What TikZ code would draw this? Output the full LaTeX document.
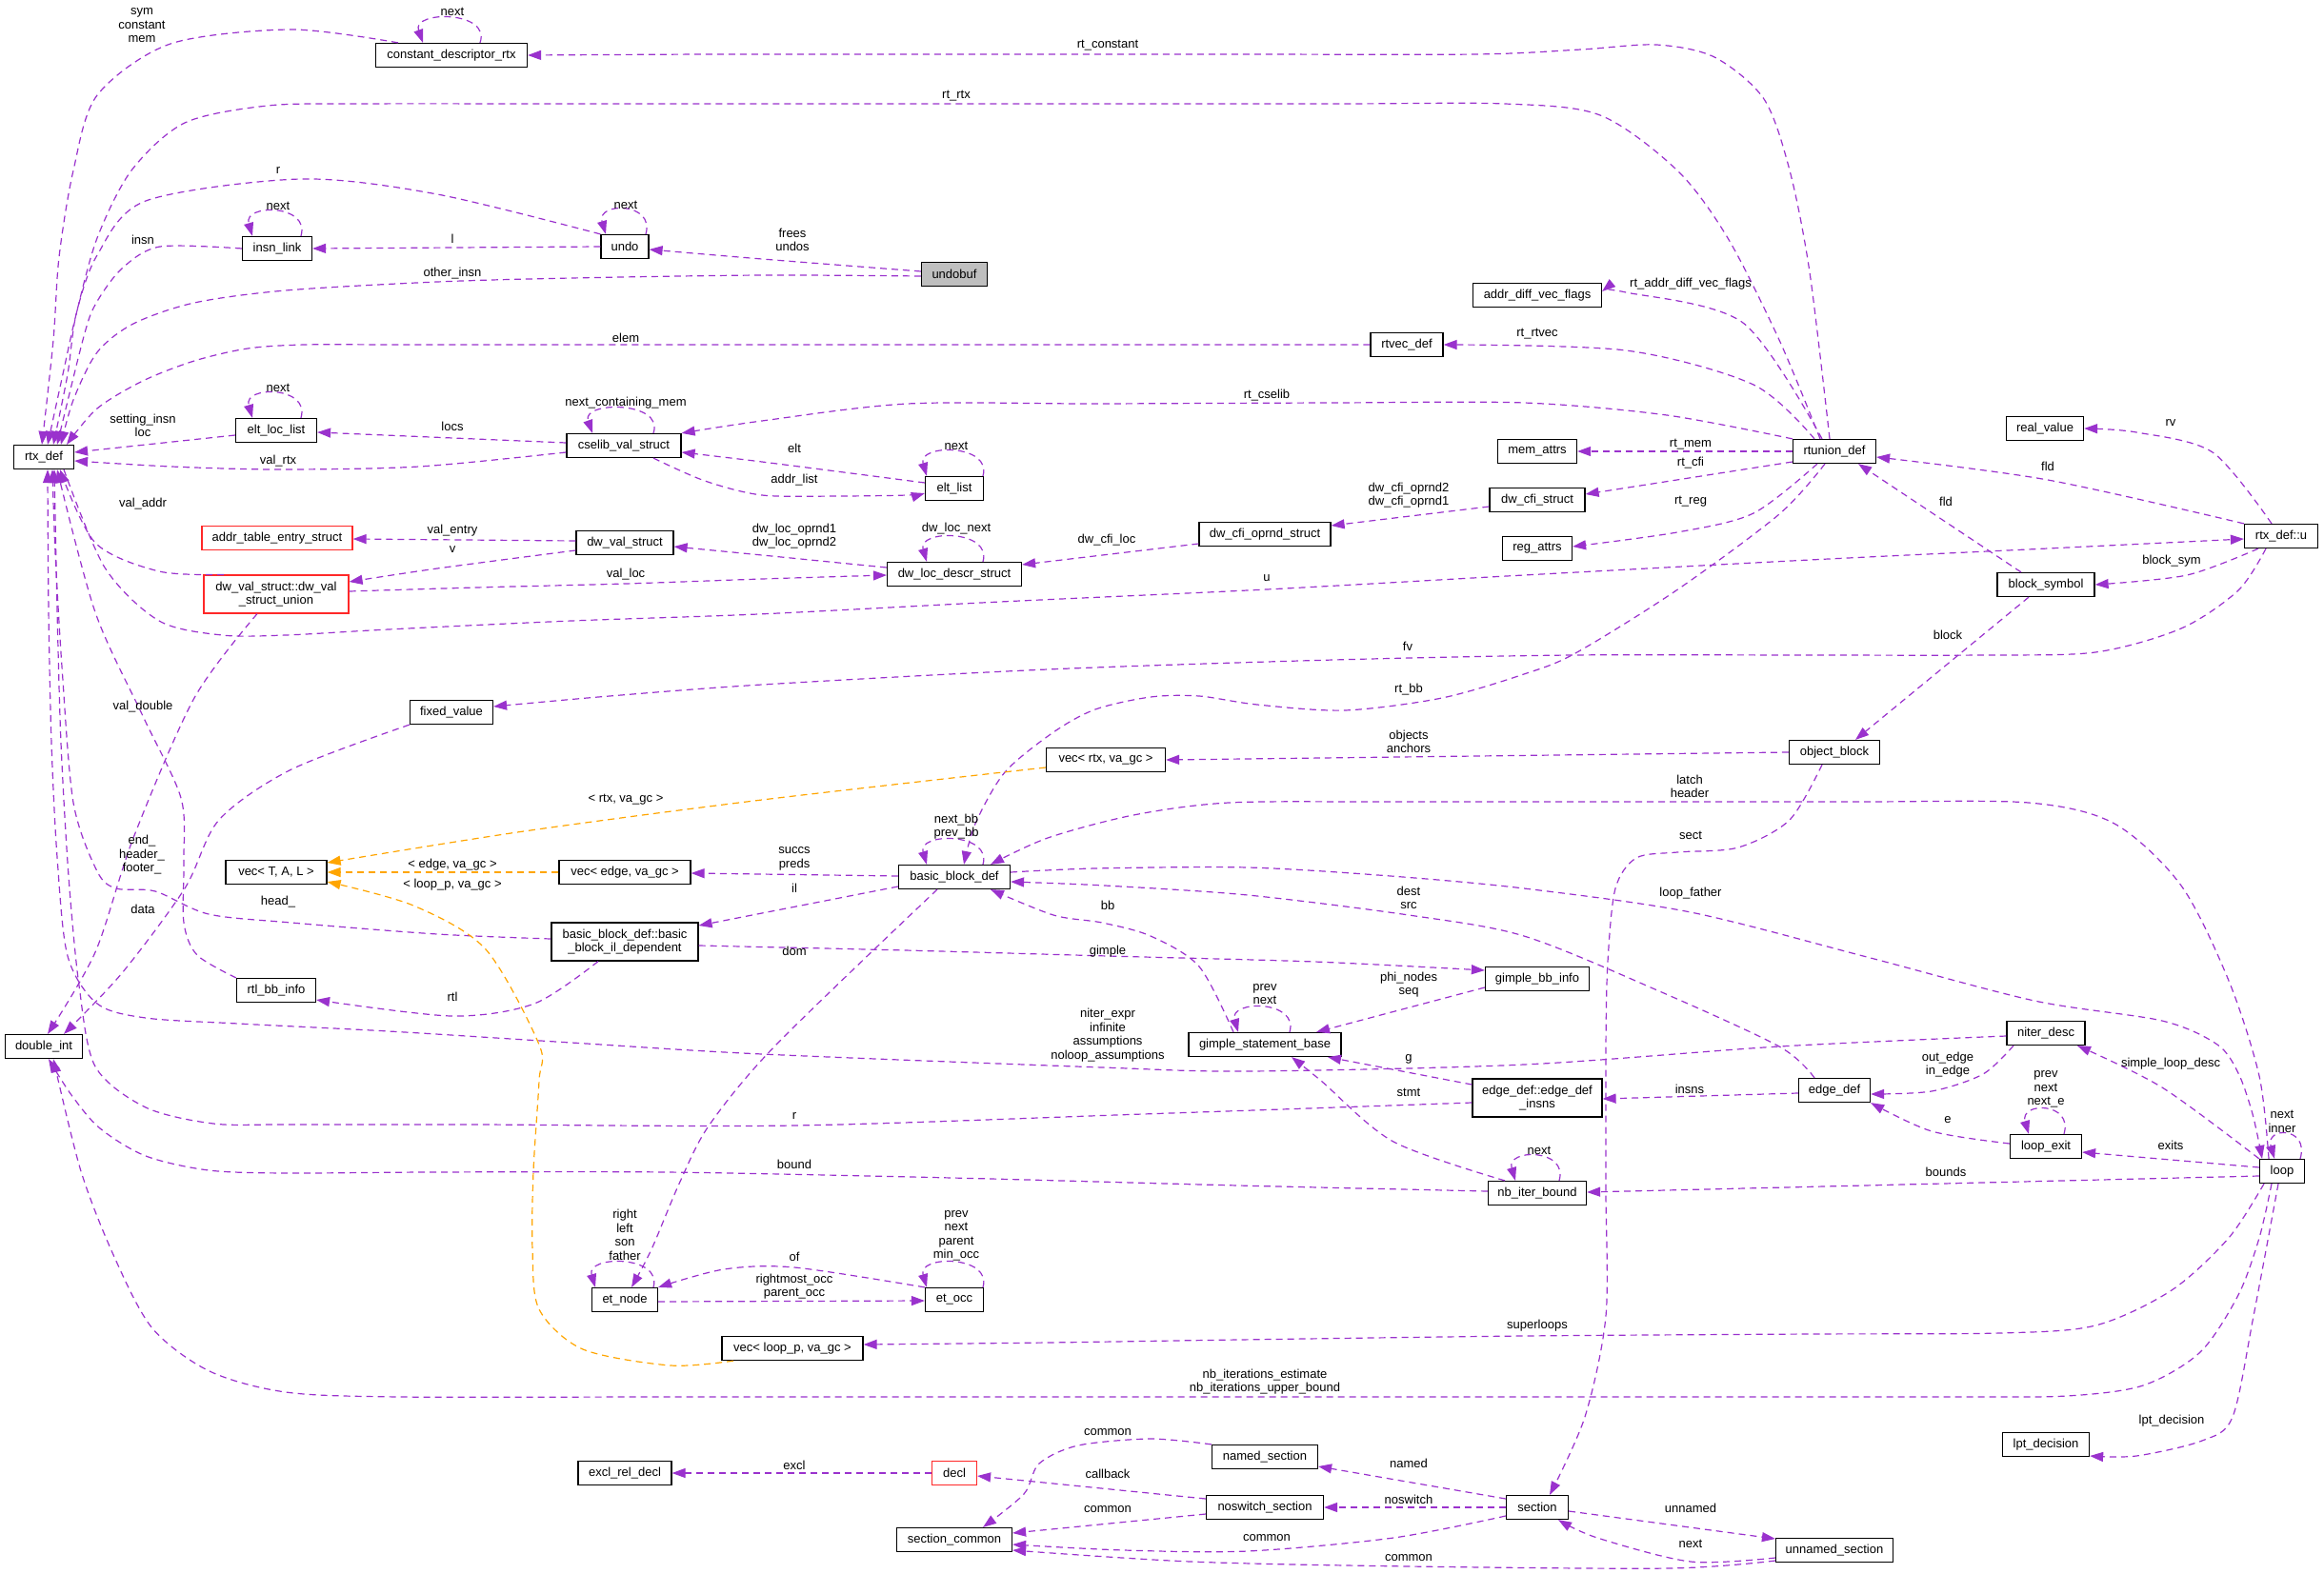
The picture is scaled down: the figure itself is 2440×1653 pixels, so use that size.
\documentclass[tikz,border=0pt]{standalone}
\usepackage{fontspec}
\setmainfont{Liberation Sans}
\usetikzlibrary{arrows.meta}
\definecolor{purp}{RGB}{154,50,205}
\definecolor{orng}{RGB}{255,165,0}
\definecolor{grayf}{RGB}{191,191,191}
\definecolor{redb}{RGB}{255,40,40}
\newcommand\dfont{\fontsize{13}{14.5}\selectfont}
\begin{document}
\begin{tikzpicture}[x=1pt,y=-1pt,
 nd/.style={draw=black, line width=1.2pt, fill=white, minimum height=25pt, inner sep=0pt, minimum width=#1, font=\dfont, align=center},
 rnd/.style={nd=#1, draw=redb},
 lbl/.style={font=\dfont, align=center, inner sep=0pt},
 rel/.style={draw=purp, line width=1.2pt, dash pattern=on 7pt off 5pt, -{Triangle[length=14pt,width=10pt]}},
 tmpl/.style={rel, draw=orng}]
\useasboundingbox (0,0) rectangle (2440,1653);
% ---------- nodes ----------
\node[nd=63pt] (rtx) at (46,480) {rtx\_def};
\node[nd=159pt] (cdr) at (474,58) {constant\_descriptor\_rtx};
\node[nd=73pt] (insnlink) at (291,261) {insn\_link};
\node[nd=50pt] (undo) at (656,259) {undo};
\node[nd=69pt, fill=grayf] (undobuf) at (1002,288) {undobuf};
\node[nd=85pt] (eltloclist) at (290,452) {elt\_loc\_list};
\node[nd=120pt] (cselib) at (655,468) {cselib\_val\_struct};
\node[nd=135pt] (addrdiff) at (1614,310) {addr\_diff\_vec\_flags};
\node[nd=76pt] (rtvec) at (1477,362) {rtvec\_def};
\node[nd=61pt] (eltlist) at (1002,513) {elt\_list};
\node[nd=87pt] (rtunion) at (1926,474) {rtunion\_def};
\node[nd=81pt] (realvalue) at (2147,450) {real\_value};
\node[nd=83pt] (memattrs) at (1614,474) {mem\_attrs};
\node[nd=100pt] (dwcfistruct) at (1614,525) {dw\_cfi\_struct};
\node[nd=138pt] (dwcfioprnd) at (1328,561) {dw\_cfi\_oprnd\_struct};
\node[nd=73pt] (regattrs) at (1614,576) {reg\_attrs};
\node[nd=141pt] (dwlocdescr) at (1002,603) {dw\_loc\_descr\_struct};
\node[nd=77pt] (rtxu) at (2395,563) {rtx\_def::u};
\node[nd=102pt] (blocksym) at (2148,614) {block\_symbol};
\node[rnd=158pt] (addrtable) at (291,565) {addr\_table\_entry\_struct};
\node[nd=102pt] (dwval) at (656,570) {dw\_val\_struct};
\node[rnd=152pt, minimum height=40pt] (dwvsu) at (290,624) {dw\_val\_struct::dw\_val\\\_struct\_union};
\node[nd=87pt] (fixedvalue) at (474,748) {fixed\_value};
\node[nd=125pt] (vecrtx) at (1161,798) {vec< rtx, va\_gc >};
\node[nd=95pt] (objblock) at (1926,790) {object\_block};
\node[nd=106pt] (vecT) at (290,916) {vec< T, A, L >};
\node[nd=138pt] (vecedge) at (656,916) {vec< edge, va\_gc >};
\node[nd=117pt] (bb) at (1002,921) {basic\_block\_def};
\node[nd=154pt, minimum height=40pt] (bbil) at (656,989) {basic\_block\_def::basic\\\_block\_il\_dependent};
\node[nd=109pt] (gimplebb) at (1614,1028) {gimple\_bb\_info};
\node[nd=83pt] (rtlbb) at (290,1040) {rtl\_bb\_info};
\node[nd=160pt] (gsb) at (1328,1097) {gimple\_statement\_base};
\node[nd=82pt] (niterdesc) at (2148,1085) {niter\_desc};
\node[nd=81pt] (doubleint) at (46,1099) {double\_int};
\node[nd=136pt, minimum height=40pt] (edgedefinsns) at (1614,1153) {edge\_def::edge\_def\\\_insns};
\node[nd=75pt] (edgedef) at (1926,1145) {edge\_def};
\node[nd=75pt] (loopexit) at (2148,1204) {loop\_exit};
\node[nd=47pt] (loop) at (2396,1230) {loop};
\node[nd=103pt] (nbiter) at (1614,1253) {nb\_iter\_bound};
\node[nd=69pt] (etnode) at (656,1365) {et\_node};
\node[nd=61pt] (etocc) at (1002,1365) {et\_occ};
\node[nd=148pt] (vecloop) at (832,1416) {vec< loop\_p, va\_gc >};
\node[nd=91pt] (lpt) at (2148,1517) {lpt\_decision};
\node[nd=111pt] (named) at (1328,1530) {named\_section};
\node[nd=98pt] (excl) at (656,1547) {excl\_rel\_decl};
\node[rnd=47pt] (decl) at (1002,1547) {decl};
\node[nd=123pt] (noswitch) at (1328,1583) {noswitch\_section};
\node[nd=65pt] (section) at (1614,1583) {section};
\node[nd=121pt] (seccommon) at (1002,1617) {section\_common};
\node[nd=123pt] (unnamed) at (1926,1628) {unnamed\_section};
% ---------- edges ----------
\draw[rel] plot[smooth,tension=0.5] coordinates {([xshift=-56pt]cdr.north) (306,31) (179,46) (102,100) (77,179) (62,270) (56,357) ([xshift=-2pt]rtx.north)};
\draw[rel] plot[smooth,tension=0.5] coordinates {([xshift=-5pt]rtunion.north) (1900,286) (1879,179) (1852,104) (1800,60) (1739,47) (1660,52) (1550,57) (1300,57) (1000,57) (750,57) (cdr.east)};
\draw[rel] plot[smooth,tension=0.5] coordinates {([xshift=-15pt]rtunion.north) (1868,357) (1814,250) (1761,179) (1680,121) (1580,109) (1400,109) (1000,109) (600,109) (380,109) (281,111) (194,129) (138,179) (102,250) (80,330) (66,393) ([xshift=4pt]rtx.north)};
\draw[rel] plot[smooth,tension=0.5] coordinates {(undo.north west) (459,204) (316,188) (153,211) (102,268) (80,330) (71,393) ([xshift=10pt]rtx.north)};
\draw[rel] plot[smooth,tension=0.5] coordinates {(insnlink.west) (168,259) (128,282) (100,320) (87,357) ([xshift=14pt]rtx.north)};
\draw[rel] plot[smooth,tension=0.5] coordinates {([yshift=-2pt]undobuf.west) (800,289) (600,292) (459,296) (300,305) (204,318) (140,340) (102,370) (77,420) ([xshift=18pt]rtx.north)};
\draw[rel] plot[smooth,tension=0.5] coordinates {(rtvec.west) (1200,362) (900,362) (600,362) (420,362) (320,362) (260,366) (204,379) (150,400) (102,429) ([xshift=24pt]rtx.north)};
\draw[rel] plot[smooth,tension=0.5] coordinates {([yshift=3pt]undobuf.west) (800,272) ([yshift=-3pt]undo.east)};
\draw[rel] (undo.west) -- (insnlink.east);
\draw[rel] ([yshift=-5pt]eltloclist.west) -- ([yshift=5pt]rtx.east);
\draw[rel] ([yshift=3pt]cselib.west) -- ([yshift=-2pt]eltloclist.east);
\draw[rel] plot[smooth,tension=0.5] coordinates {([yshift=-7pt]cselib.west) (440,490) (292,493) (180,490) ([yshift=-4pt]rtx.east)};
\draw[rel] plot[smooth,tension=0.5] coordinates {([yshift=6pt]eltlist.west) (800,485) ([yshift=-7pt]cselib.east)};
\draw[rel] plot[smooth,tension=0.5] coordinates {([xshift=31pt]cselib.south) (740,505) (800,520) (880,521) (953,520) ([yshift=-5pt]eltlist.west)};
\draw[rel] plot[smooth,tension=0.5] coordinates {(rtunion.north west) (1750,436) (1600,423) (1400,423) (1150,424) (953,424) (800,442) (cselib.north east)};
\draw[rel] plot[smooth,tension=0.5] coordinates {([xshift=-21pt]rtunion.north) (1841,404) (1707,368) (rtvec.east)};
\draw[rel] plot[smooth,tension=0.5] coordinates {([xshift=-13pt]rtunion.north) (1830,339) (1707,307) ([yshift=4pt]addrdiff.east)};
\draw[rel] (rtunion.west) -- (memattrs.east);
\draw[rel] ([yshift=-11pt]rtunion.west) -- ([yshift=6pt]dwcfistruct.east);
\draw[rel] plot[smooth,tension=0.5] coordinates {([xshift=-18pt]rtunion.south) (1841,539) (1761,559) ([yshift=2pt]regattrs.east)};
\draw[rel] plot[smooth,tension=0.5] coordinates {([xshift=-10pt]rtunion.south) (1868,540) (1760,620) (1654,686) (1600,708) (1514,733) (1412,746) (1320,740) (1259,731) (1208,732) (1150,745) (1106,769) (1055,811) (1024,865) ([xshift=10pt]bb.north)};
\draw[rel] plot[smooth,tension=0.5] coordinates {(rtxu.north west) (2150,504) ([yshift=-6pt]rtunion.east)};
\draw[rel] ([xshift=-26pt]blocksym.north) -- ([xshift=25pt]rtunion.south);
\draw[rel] plot[smooth,tension=0.5] coordinates {([xshift=-10pt]rtxu.north) (2323,475) (2243,454) (realvalue.east)};
\draw[rel] plot[smooth,tension=0.5] coordinates {([xshift=-24pt]rtxu.south) (2296,604) (blocksym.east)};
\draw[rel] plot[smooth,tension=0.5] coordinates {([xshift=-16pt]rtxu.south) (2350,620) (2290,660) (2200,685) (2080,688) (1900,688) (1650,688) (1400,693) (1100,703) (800,719) (640,731) ([yshift=6pt]fixedvalue.east)};
\draw[rel] ([xshift=-18pt]blocksym.south) -- ([xshift=22pt]objblock.north);
\draw[rel] (objblock.west) -- (vecrtx.east);
\draw[rel] ([yshift=-7pt]dwcfistruct.west) -- ([yshift=9pt]dwcfioprnd.east);
\draw[rel] ([yshift=-10pt]dwcfioprnd.west) -- ([yshift=10pt]dwlocdescr.east);
\draw[rel] plot[smooth,tension=0.5] coordinates {([yshift=7pt]dwlocdescr.west) (800,583) ([yshift=-4pt]dwval.east)};
\draw[rel] plot[smooth,tension=0.5] coordinates {([yshift=3pt]dwvsu.east) (500,617) (657,613) (800,608) ([yshift=-1pt]dwlocdescr.west)};
\draw[rel] ([yshift=2pt]dwval.west) -- ([yshift=-1pt]addrtable.east);
\draw[rel] plot[smooth,tension=0.5] coordinates {([yshift=-8pt]dwval.west) (459,597) ([yshift=13pt]dwvsu.east)};
\draw[rel] plot[smooth,tension=0.5] coordinates {([xshift=-55pt]dwvsu.north) (167,600) (100,570) ([xshift=17pt]rtx.south)};
\draw[rel] plot[smooth,tension=0.5] coordinates {([xshift=21pt]rtx.south) (110,596) (167,652) (233,667) (300,667) (408,661) (600,652) (796,645) (1050,632) (1330,619) (1600,604) (1900,588) (2150,576) ([yshift=-3pt]rtxu.west)};
\draw[rel] plot[smooth,tension=0.5] coordinates {([xshift=-20pt]dwvsu.south) (204,733) (140,880) (100,1000) ([xshift=4pt]doubleint.north)};
\draw[rel] plot[smooth,tension=0.5] coordinates {(fixedvalue.south west) (306,808) (230,861) (194,933) (128,1022) ([xshift=21pt]doubleint.north)};
\draw[rel] plot[smooth,tension=0.5] coordinates {(rtlbb.north west) (207,1003) (193,969) (193,904) (190,838) (150,752) (100,643) ([xshift=14pt]rtx.south)};
\draw[rel] plot[smooth,tension=0.5] coordinates {([yshift=3pt]bbil.west) (459,981) (306,969) (219,960) (163,936) (122,933) (102,915) (77,843) (65,700) (58,580) ([xshift=9pt]rtx.south)};
\draw[rel] plot[smooth,tension=0.5] coordinates {([yshift=-3pt]niterdesc.west) (1868,1099) (1600,1118) (1310,1125) (1157,1121) (800,1107) (600,1095) (408,1083) (250,1075) (153,1069) (102,1054) (71,1004) (60,900) (54,780) (51,640) ([xshift=4pt]rtx.south)};
\draw[rel] plot[smooth,tension=0.5] coordinates {([yshift=-5pt]edgedefinsns.west) (1200,1170) (834,1182) (500,1181) (300,1181) (224,1180) (153,1163) (100,1120) (83,1035) (72,920) (64,780) (60,640) ([xshift=11pt]rtx.south)};
\draw[rel] plot[smooth,tension=0.5] coordinates {([yshift=2pt]nbiter.west) (1300,1245) (1000,1237) (700,1231) (450,1231) (300,1232) (219,1229) (153,1214) (105,1185) (75,1150) ([xshift=5pt]doubleint.south)};
\draw[rel] plot[smooth,tension=0.5] coordinates {([xshift=-11pt]loop.south) (2372,1300) (2350,1360) (2310,1420) (2250,1455) (2170,1466) (2050,1467) (1850,1467) (1500,1467) (1100,1467) (700,1467) (420,1467) (300,1462) (220,1440) (160,1395) (120,1320) (85,1230) ([xshift=10pt]doubleint.south)};
\draw[rel] plot[smooth,tension=0.5] coordinates {([xshift=-28pt]bbil.south) (561,1054) (474,1067) ([yshift=-10pt]rtlbb.east)};
\draw[rel] ([yshift=-10pt]bb.west) -- ([yshift=17pt]bbil.east);
\draw[rel] plot[smooth,tension=0.5] coordinates {([yshift=-4pt]bbil.east) (950,998) (1163,1004) (1380,1010) ([yshift=9pt]gimplebb.west)};
\draw[rel] ([yshift=1pt]bb.west) -- ([yshift=-1pt]vecedge.east);
\draw[tmpl] (vecedge.west) -- (vecT.east);
\draw[tmpl] plot[smooth,tension=0.5] coordinates {([yshift=-8pt]vecrtx.west) (800,840) (550,873) ([yshift=10pt]vecT.east)};
\draw[tmpl] plot[smooth,tension=0.5] coordinates {([xshift=-62pt]vecloop.south) (704,1434) (612,1417) (566,1375) (559,1312) (560,1230) (566,1135) (566,1097) (510,997) (434,951) ([yshift=-10pt]vecT.east)};
\draw[rel] plot[smooth,tension=0.5] coordinates {([xshift=-18pt]bb.south) (815,1097) (745,1181) (714,1241) (684,1312) ([xshift=7pt]etnode.north)};
\draw[rel] ([yshift=-2pt]etnode.east) -- ([yshift=-1pt]etocc.west);
\draw[rel] plot[smooth,tension=0.5] coordinates {(etocc.north west) (834,1331) (760,1333) (etnode.north east)};
\draw[rel] plot[smooth,tension=0.5] coordinates {([xshift=-19pt]loop.south) (2340,1300) (2280,1355) (2200,1392) (2100,1400) (1900,1401) (1600,1403) (1300,1407) (1100,1410) ([yshift=4pt]vecloop.east)};
\draw[rel] plot[smooth,tension=0.5] coordinates {([xshift=-4pt]loop.south) (2366,1382) (2344,1488) (2312,1513) (2243,1529) ([yshift=-12pt]lpt.east)};
\draw[rel] plot[smooth,tension=0.5] coordinates {([yshift=5pt]bb.east) (1150,912) (1310,911) (1460,920) (1600,933) (1775,958) (1960,1005) (2136,1051) (2270,1072) (2328,1097) (2350,1127) (2365,1170) ([xshift=-21pt]loop.north)};
\draw[rel] plot[smooth,tension=0.5] coordinates {([xshift=-14pt]loop.north) (2372,1130) (2340,1030) (2290,930) (2220,865) (2130,843) (1950,842) (1700,842) (1450,842) (1290,843) (1190,856) (1100,880) ([xshift=38pt]bb.north)};
\draw[rel] plot[smooth,tension=0.5] coordinates {([xshift=-21pt]edgedef.north) (1868,1099) (1740,1040) (1600,983) (1479,961) (1310,940) (1160,930) ([yshift=-5pt]bb.east)};
\draw[rel] plot[smooth,tension=0.5] coordinates {([xshift=-33pt]gsb.north) (1259,1015) (1208,983) (1157,969) (1106,961) ([xshift=38pt]bb.south)};
\draw[rel] ([yshift=-9pt]gimplebb.west) -- ([xshift=54pt]gsb.north);
\draw[rel] ([yshift=14pt]edgedefinsns.west) -- ([xshift=66pt]gsb.south);
\draw[rel] plot[smooth,tension=0.5] coordinates {([xshift=-34pt]nbiter.north) (1463,1199) (1387,1135) ([xshift=28pt]gsb.south)};
\draw[rel] ([yshift=-3pt]edgedef.west) -- ([yshift=-1pt]edgedefinsns.east);
\draw[rel] plot[smooth,tension=0.5] coordinates {([xshift=-34pt]niterdesc.south) (2082,1128) (2028,1146) ([yshift=-4pt]edgedef.east)};
\draw[rel] plot[smooth,tension=0.5] coordinates {([yshift=3pt]loopexit.west) (2028,1188) (edgedef.south east)};
\draw[rel] ([yshift=4pt]loop.west) -- ([yshift=-6pt]loopexit.east);
\draw[rel] ([yshift=-5pt]loop.west) -- ([yshift=1pt]nbiter.east);
\draw[rel] plot[smooth,tension=0.5] coordinates {(loop.north west) (2270,1142) ([xshift=33pt]niterdesc.south)};
\draw[rel] plot[smooth,tension=0.5] coordinates {([xshift=-13pt]objblock.south) (1879,861) (1825,890) (1761,895) (1718,901) (1696,933) (1688,1010) (1686,1100) (1686,1250) (1686,1382) (1664,1488) ([xshift=13pt]section.north)};
\draw[rel] ([yshift=9pt]section.west) -- ([yshift=-10pt]named.east);
\draw[rel] (section.west) -- (noswitch.east);
\draw[rel] ([yshift=-4pt]section.east) -- ([yshift=12pt]unnamed.west);
\draw[rel] plot[smooth,tension=0.5] coordinates {([yshift=-8pt]unnamed.west) (1775,1640) (1677,1615) ([xshift=22pt]section.south)};
\draw[rel] plot[smooth,tension=0.5] coordinates {([yshift=-9pt]section.west) (1463,1615) (1310,1629) (1180,1628) ([yshift=-5pt]seccommon.east)};
\draw[rel] plot[smooth,tension=0.5] coordinates {([yshift=-11pt]unnamed.west) (1753,1647) (1479,1645) (1250,1640) ([yshift=-11pt]seccommon.east)};
\draw[rel] ([yshift=-7pt]noswitch.west) -- ([yshift=7pt]seccommon.east);
\draw[rel] ([yshift=9pt]noswitch.west) -- ([yshift=-3pt]decl.east);
\draw[rel] plot[smooth,tension=0.5] coordinates {(named.north west) (1208,1511) (1132,1518) (1091,1537) (1075,1569) ([xshift=30pt]seccommon.north)};
\draw[rel] (decl.west) -- (excl.east);
% ---------- self loops ----------
\draw[rel] ([xshift=30pt]cdr.north) .. controls +(12,-34) and +(-12,-34) .. ([xshift=-30pt]cdr.north);
\draw[rel] ([xshift=25pt]insnlink.north) .. controls +(10,-34) and +(-10,-34) .. ([xshift=-26pt]insnlink.north);
\draw[rel] ([xshift=22pt]undo.north) .. controls +(10,-34) and +(-10,-34) .. ([xshift=-20pt]undo.north);
\draw[rel] ([xshift=26pt]eltloclist.north) .. controls +(10,-34) and +(-10,-34) .. ([xshift=-25pt]eltloclist.north);
\draw[rel] ([xshift=31pt]cselib.north) .. controls +(12,-34) and +(-12,-34) .. ([xshift=-33pt]cselib.north);
\draw[rel] ([xshift=30pt]eltlist.north) .. controls +(10,-34) and +(-10,-34) .. ([xshift=-29pt]eltlist.north);
\draw[rel] ([xshift=30pt]dwlocdescr.north) .. controls +(10,-34) and +(-10,-34) .. ([xshift=-29pt]dwlocdescr.north);
\draw[rel] ([xshift=30pt]bb.north) .. controls +(10,-34) and +(-10,-34) .. ([xshift=-29pt]bb.north);
\draw[rel] ([xshift=26pt]gsb.north) .. controls +(10,-34) and +(-10,-34) .. ([xshift=-28pt]gsb.north);
\draw[rel] ([xshift=30pt]etnode.north) .. controls +(10,-34) and +(-10,-34) .. ([xshift=-31pt]etnode.north);
\draw[rel] ([xshift=30pt]etocc.north) .. controls +(10,-34) and +(-10,-34) .. ([xshift=-29pt]etocc.north);
\draw[rel] ([xshift=23pt]nbiter.north) .. controls +(10,-34) and +(-10,-34) .. ([xshift=-23pt]nbiter.north);
\draw[rel] ([xshift=19pt]loopexit.north) .. controls +(10,-34) and +(-10,-34) .. ([xshift=-18pt]loopexit.north);
\draw[rel] ([xshift=19pt]loop.north) .. controls +(10,-34) and +(-10,-34) .. ([xshift=-8pt]loop.north);
% ---------- labels ----------
\node[lbl] (l1) at (149,27) {sym\\constant\\mem};
\node[lbl] (l2) at (475,12) {next};
\node[lbl] (l3) at (1163,48) {rt\_constant};
\node[lbl] (l4) at (1004,101) {rt\_rtx};
\node[lbl] (l5) at (292,179) {r};
\node[lbl] (l6) at (292,216) {next};
\node[lbl] (l7) at (657,215) {next};
\node[lbl] (l8) at (832,252) {frees\\undos};
\node[lbl] (l9) at (150,252) {insn};
\node[lbl] (l10) at (475,251) {l};
\node[lbl] (l11) at (475,287) {other\_insn};
\node[lbl] (l12) at (1775,298) {rt\_addr\_diff\_vec\_flags};
\node[lbl] (l13) at (657,355) {elem};
\node[lbl] (l14) at (1614,351) {rt\_rtvec};
\node[lbl] (l15) at (292,407) {next};
\node[lbl] (l16) at (1330,415) {rt\_cselib};
\node[lbl] (l17) at (657,423) {next\_containing\_mem};
\node[lbl] (l18) at (150,447) {setting\_insn\\loc};
\node[lbl] (l19) at (475,448) {locs};
\node[lbl] (l20) at (2279,444) {rv};
\node[lbl] (l21) at (1004,468) {next};
\node[lbl] (l22) at (834,471) {elt};
\node[lbl] (l23) at (1775,467) {rt\_mem};
\node[lbl] (l24) at (292,484) {val\_rtx};
\node[lbl] (l25) at (1775,486) {rt\_cfi};
\node[lbl] (l26) at (2150,490) {fld};
\node[lbl] (l27) at (834,504) {addr\_list};
\node[lbl] (l28) at (1479,520) {dw\_cfi\_oprnd2\\dw\_cfi\_oprnd1};
\node[lbl] (l29) at (1775,527) {rt\_reg};
\node[lbl] (l30) at (2043,527) {fld};
\node[lbl] (l31) at (150,529) {val\_addr};
\node[lbl] (l32) at (834,563) {dw\_loc\_oprnd1\\dw\_loc\_oprnd2};
\node[lbl] (l33) at (1004,555) {dw\_loc\_next};
\node[lbl] (l34) at (475,557) {val\_entry};
\node[lbl] (l35) at (1162,567) {dw\_cfi\_loc};
\node[lbl] (l36) at (475,577) {v};
\node[lbl] (l37) at (2280,589) {block\_sym};
\node[lbl] (l38) at (657,603) {val\_loc};
\node[lbl] (l39) at (1330,607) {u};
\node[lbl] (l40) at (2045,667) {block};
\node[lbl] (l41) at (1478,679) {fv};
\node[lbl] (l42) at (1479,724) {rt\_bb};
\node[lbl] (l43) at (150,742) {val\_double};
\node[lbl] (l44) at (1479,779) {objects\\anchors};
\node[lbl] (l45) at (1774,826) {latch\\header};
\node[lbl] (l46) at (657,840) {< rtx, va\_gc >};
\node[lbl] (l47) at (1004,868) {next\_bb\\prev\_bb};
\node[lbl] (l48) at (1775,877) {sect};
\node[lbl] (l49) at (149,898) {end\_\\header\_\\footer\_};
\node[lbl] (l50) at (834,902) {succs\\preds};
\node[lbl] (l51) at (475,908) {< edge, va\_gc >};
\node[lbl] (l52) at (475,929) {< loop\_p, va\_gc >};
\node[lbl] (l53) at (834,933) {il};
\node[lbl] (l54) at (1775,938) {loop\_father};
\node[lbl] (l55) at (1479,943) {dest\\src};
\node[lbl] (l56) at (292,947) {head\_};
\node[lbl] (l57) at (1163,951) {bb};
\node[lbl] (l58) at (150,955) {data};
\node[lbl] (l59) at (834,999) {dom};
\node[lbl] (l60) at (1163,999) {gimple};
\node[lbl] (l61) at (1479,1034) {phi\_nodes\\seq};
\node[lbl] (l62) at (1328,1044) {prev\\next};
\node[lbl] (l63) at (475,1047) {rtl};
\node[lbl] (l64) at (1163,1087) {niter\_expr\\infinite\\assumptions\\noloop\_assumptions};
\node[lbl] (l65) at (2045,1118) {out\_edge\\in\_edge};
\node[lbl] (l66) at (2279,1117) {simple\_loop\_desc};
\node[lbl] (l67) at (1479,1112) {g};
\node[lbl] (l68) at (2148,1144) {prev\\next\\next\_e};
\node[lbl] (l69) at (1774,1144) {insns};
\node[lbl] (l70) at (1479,1147) {stmt};
\node[lbl] (l71) at (834,1172) {r};
\node[lbl] (l72) at (2396,1178) {next\\inner};
\node[lbl] (l73) at (2045,1176) {e};
\node[lbl] (l74) at (2279,1203) {exits};
\node[lbl] (l75) at (1616,1208) {next};
\node[lbl] (l76) at (834,1223) {bound};
\node[lbl] (l77) at (2043,1231) {bounds};
\node[lbl] (l78) at (656,1297) {right\\left\\son\\father};
\node[lbl] (l79) at (1004,1298) {prev\\next\\parent\\min\_occ};
\node[lbl] (l80) at (834,1320) {of};
\node[lbl] (l81) at (834,1351) {rightmost\_occ\\parent\_occ};
\node[lbl] (l82) at (1614,1392) {superloops};
\node[lbl] (l83) at (1328,1451) {nb\_iterations\_estimate\\nb\_iterations\_upper\_bound};
\node[lbl] (l84) at (2280,1492) {lpt\_decision};
\node[lbl] (l85) at (1163,1504) {common};
\node[lbl] (l86) at (1479,1537) {named};
\node[lbl] (l87) at (834,1539) {excl};
\node[lbl] (l88) at (1163,1548) {callback};
\node[lbl] (l89) at (1479,1575) {noswitch};
\node[lbl] (l90) at (1163,1585) {common};
\node[lbl] (l91) at (1775,1584) {unnamed};
\node[lbl] (l92) at (1330,1615) {common};
\node[lbl] (l93) at (1775,1621) {next};
\node[lbl] (l94) at (1479,1636) {common};
\end{tikzpicture}
\end{document}
